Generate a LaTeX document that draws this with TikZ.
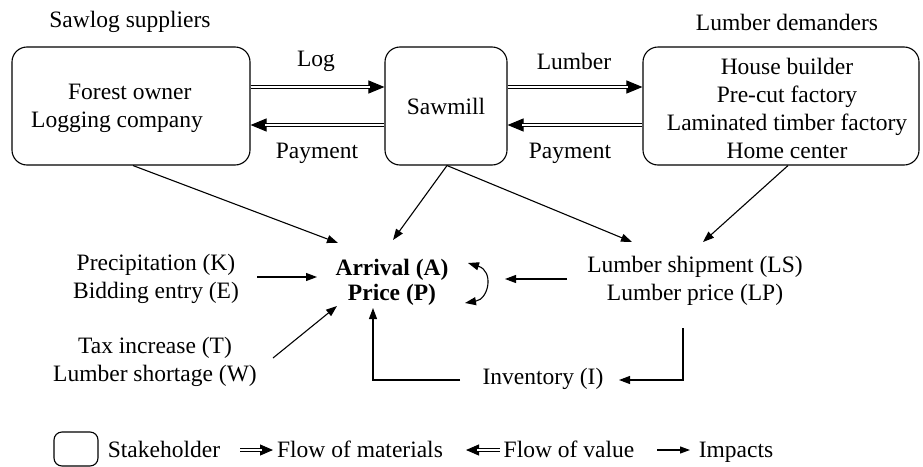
\documentclass[tikz,border=0pt]{standalone}
\usepackage{fontspec}
\setmainfont{Liberation Serif}
\usetikzlibrary{arrows.meta}
\begin{document}
\begin{tikzpicture}[x=1pt,y=-1pt,
  every node/.style={font=\fontsize{23.5}{28}\selectfont, inner sep=0pt, align=center},
  stake/.style={draw, line width=1.1pt, rounded corners=15pt},
  imp/.style={line width=1.1pt, -{Triangle[length=11pt,width=8pt]}},
  flowtip/.style={line width=1pt, -{Triangle[length=16pt,width=13pt]}},
  flowline/.style={double, line width=1.1pt, double distance=1.6pt, shorten >=14pt},
  legtip/.style={line width=1pt, -{Triangle[length=13pt,width=11pt]}},
  legline/.style={double, line width=1.1pt, double distance=1.6pt, shorten >=11pt},
  leg/.style={anchor=base}]
\useasboundingbox (0,0) rectangle (923,466);
% stakeholders
\node[stake, minimum width=238pt, minimum height=118pt] (b1) at (131,106) {};
\node[align=left] at (117,108) {\hspace*{37pt}Forest owner\\Logging company};
\node[stake, minimum width=122pt, minimum height=118pt] (sm) at (446,106) {Sawmill};
\node[stake, minimum width=276pt, minimum height=118pt] (b3) at (781,106) {};
\node at (787,108) {House builder\\Pre-cut factory\\Laminated timber factory\\Home center};
\node (sup) at (130,22) {Sawlog suppliers};
\node (dem) at (787,22) {Lumber demanders};
% flows
\draw[flowtip] ([yshift=19]b1.east) -- ([yshift=19]sm.west);
\draw[flowline] ([yshift=19]b1.east) -- ([yshift=19]sm.west);
\draw[flowtip] ([yshift=-19]sm.west) -- ([yshift=-19]b1.east);
\draw[flowline] ([yshift=-19]sm.west) -- ([yshift=-19]b1.east);
\draw[flowtip] ([yshift=19]sm.east) -- ([yshift=19]b3.west);
\draw[flowline] ([yshift=19]sm.east) -- ([yshift=19]b3.west);
\draw[flowtip] ([yshift=-19]b3.west) -- ([yshift=-19]sm.east);
\draw[flowline] ([yshift=-19]b3.west) -- ([yshift=-19]sm.east);
\node (log) at (316,61) {Log};
\node (lum) at (574,61) {Lumber};
\node (pay1) at (317,153) {Payment};
\node (pay2) at (570,153) {Payment};
% factors
\node[font=\fontsize{23.5}{25}\selectfont\bfseries] (ap) at (392,282) {Arrival (A)\\Price (P)};
\node (pk) at (156,279) {Precipitation (K)\\Bidding entry (E)};
\node (tw) at (155,362) {Tax increase (T)\\Lumber shortage (W)};
\node (ls) at (695,281) {Lumber shipment (LS)\\Lumber price (LP)};
\node (inv) at (543,379) {Inventory (I)};
% impacts
\draw[imp] ([xshift=2]b1.south) -- ([shift={(-54,-39)}]ap.center);
\draw[imp] ([xshift=1]sm.south) -- ([shift={(1,-42)}]ap.center);
\draw[imp] ([xshift=1]sm.south) -- ([shift={(-63,-39)}]ls.center);
\draw[imp] ([xshift=7]b3.south) -- ([shift={(8,-39)}]ls.center);
\draw[imp] ([shift={(101,-2)}]pk.center) -- ([shift={(-75,-5)}]ap.center);
\draw[imp] ([shift={(118,-4)}]tw.center) -- ([shift={(-55,24)}]ap.center);
\draw[imp] ([shift={(-128,-2)}]ls.center) -- ([shift={(113,-3)}]ap.center);
\draw[line width=1.1pt, {Triangle[length=11pt,width=8pt]}-{Triangle[length=11pt,width=8pt]}]
  ([shift={(76,-19)}]ap.center) .. controls +(26,8) and +(24,-4) .. ([shift={(73,21)}]ap.center);
\draw[imp] ([shift={(-12,47)}]ls.center) |- ([shift={(76,1)}]inv.center);
\draw[imp] ([shift={(-83,1)}]inv.center) -| ([shift={(-19,26)}]ap.center);
% legend
\node[stake, rounded corners=8pt, minimum width=44pt, minimum height=34pt] (lb) at (76,449) {};
\node[leg] (lst) at (164,457) {Stakeholder};
\coordinate (m1) at (240,450);
\coordinate (m2) at (273,450);
\draw[legtip] (m1) -- (m2);
\draw[legline] (m1) -- (m2);
\node[leg] (lfm) at (360,457) {Flow of materials};
\coordinate (v1) at (500,450);
\coordinate (v2) at (466,450);
\draw[legtip] (v1) -- (v2);
\draw[legline] (v1) -- (v2);
\node[leg] (lfv) at (569,457) {Flow of value};
\coordinate (i1) at (657,450);
\coordinate (i2) at (690,450);
\draw[imp, -{Triangle[length=10pt,width=7pt]}] (i1) -- (i2);
\node[leg] (lim) at (736,457) {Impacts};
\end{tikzpicture}
\end{document}
